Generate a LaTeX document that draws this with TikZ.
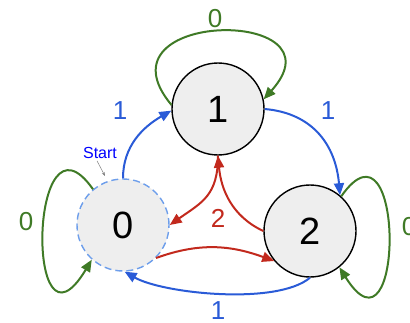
\documentclass[tikz,border=0pt]{standalone}
\usepackage{fontspec}
\setmainfont{Liberation Sans}
\usetikzlibrary{arrows.meta}
\definecolor{fsmblue}{HTML}{2A5BD7}
\definecolor{fsmred}{HTML}{C2291D}
\definecolor{fsmgreen}{HTML}{3F7A26}
\definecolor{fsmdash}{HTML}{6D9EEB}
\definecolor{fsmfill}{HTML}{EEEEEE}
\definecolor{fsmstart}{HTML}{0000FF}

\begin{document}
\begin{tikzpicture}[x=1pt, y=1pt,
    state/.style={circle, draw=black, line width=1.4pt, fill=fsmfill, inner sep=0pt, minimum size=92pt, font=\fontsize{38}{40}\selectfont},
    startstate/.style={state, draw=fsmdash, dash pattern=on 7pt off 4pt},
    trans/.style={line width=2pt, -{Triangle[length=12pt,width=10pt]}},
    zero/.style={trans, draw=fsmgreen},
    one/.style={trans, draw=fsmblue},
    two/.style={trans, draw=fsmred},
    lbl/.style={inner sep=0pt, font=\fontsize{26}{28}\selectfont}
  ]
  \useasboundingbox (0,0) rectangle (410,322);

  % States
  \node[state] (s1) at (218,213) {1};
  \node[startstate] (s0) at (123,97) {0};
  \node[state] (s2) at (310,91) {2};

  % Start marker
  \node[inner sep=0pt, text=fsmstart, font=\fontsize{16}{18}\selectfont] (start) at (100,169) {Start};
  \coordinate (startpt) at (105,146);
  \draw[gray, line width=0.5pt, -{Stealth[length=4pt,width=3pt]}] ([xshift=-3pt, yshift=-2pt]start.south) -- (startpt);

  % Input 0: self loops
  \draw[zero] (s1.175) .. controls +(130:125) and +(48:125) .. (s1.12);
  \draw[zero] (s0.130) .. controls +(125:112) and +(-121:130) .. (s0.228);
  \draw[zero] (s2.48) .. controls +(55:112) and +(-58:123) .. (s2.-51);

  % Input 1
  \draw[one] (s0.90) to[out=90, in=210] (s1.182);
  \draw[one] (s1.0) to[out=-5, in=95, looseness=1.1] (s2.50);
  \draw[one] (s2.-90) to[out=-140, in=-30, looseness=0.6] (s0.-88);

  % Input 2
  \draw[two] (s0.-45) to[out=20, in=160] (s2.220);
  \draw[two] (s2.180) to[out=155, in=-85] (s1.-90);
  \draw[two] (s1.-90) to[out=-90, in=35, looseness=1.2] (s0.0);

  % Labels
  \node[lbl, text=fsmgreen] (l0top) at (215,303) {0};
  \node[lbl, text=fsmblue] (l1left) at (120,211) {1};
  \node[lbl, text=fsmblue] (l1right) at (328,211) {1};
  \node[lbl, text=fsmgreen] (l0left) at (26,100) {0};
  \node[lbl, text=fsmred] (l2) at (218,104) {2};
  \node[lbl, text=fsmgreen] (l0right) at (409,95) {0};
  \node[lbl, text=fsmblue] (l1bot) at (218,11) {1};
\end{tikzpicture}
\end{document}
